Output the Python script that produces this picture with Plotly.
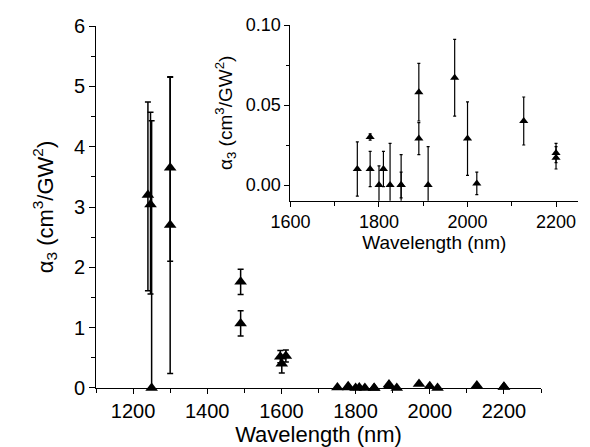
import plotly.graph_objects as go

# Large-value measurements (main plot only)
wl_big = [1240, 1247, 1250, 1300, 1300, 1490, 1490, 1597, 1601, 1612]
a3_big = [3.20, 3.04, 0.00, 3.65, 2.70, 1.76, 1.07, 0.52, 0.40, 0.53]
err_big_plus = [1.54, 1.53, 4.43, 1.50, 2.46, 0.21, 0.21, 0.10, 0.10, 0.10]
err_big_minus = [1.59, 1.48, 0.00, 1.55, 2.46, 0.21, 0.21, 0.10, 0.15, 0.10]

# Small-value measurements (shown in both main plot and inset)
wl_small = [1751, 1780, 1780, 1800, 1810, 1825, 1850, 1850, 1890, 1890,
            1911, 1971, 2000, 2021, 2127, 2200, 2200]
a3_small = [0.010, 0.030, 0.010, 0.000, 0.010, 0.000, 0.000, 0.000, 0.058, 0.029,
            0.000, 0.067, 0.029, 0.001, 0.040, 0.020, 0.017]
err_small = [0.017, 0.002, 0.011, 0.012, 0.011, 0.026, 0.019, 0.008, 0.018, 0.010,
             0.024, 0.024, 0.023, 0.007, 0.015, 0.006, 0.007]

ytitle = "α<sub>3</sub> (cm<sup>3</sup>/GW<sup>2</sup>)"
xtitle = "Wavelength (nm)"
FONT = "Liberation Sans, Arial, sans-serif"

fig = go.Figure()

fig.add_trace(go.Scatter(
    x=wl_big, y=a3_big, mode="markers",
    marker=dict(symbol="triangle-up", size=11, color="black"),
    error_y=dict(type="data", array=err_big_plus, arrayminus=err_big_minus,
                 symmetric=False, color="black", thickness=1.5, width=3),
    cliponaxis=False, xaxis="x", yaxis="y", showlegend=False))

fig.add_trace(go.Scatter(
    x=wl_small, y=a3_small, mode="markers",
    marker=dict(symbol="triangle-up", size=11, color="black"),
    cliponaxis=False, xaxis="x", yaxis="y", showlegend=False))

fig.add_trace(go.Scatter(
    x=wl_small, y=a3_small, mode="markers",
    marker=dict(symbol="triangle-up", size=8, color="black"),
    error_y=dict(type="data", array=err_small, color="black", thickness=1.2, width=1.5),
    xaxis="x2", yaxis="y2", showlegend=False))

axis_common = dict(showline=True, linecolor="black", linewidth=1, mirror=False,
                   ticks="outside", tickcolor="black", showgrid=False, zeroline=False,
                   automargin=False,
                   tickfont=dict(family=FONT, size=20, color="black"))

fig.update_layout(
    width=590, height=447,
    margin=dict(l=88, r=10, t=17, b=67),
    paper_bgcolor="white", plot_bgcolor="rgba(0,0,0,0)",
    font=dict(family=FONT, color="black"),
    xaxis=dict(**axis_common, domain=[0, 0.9045], range=[1100, 2300],
               dtick=200, tick0=1200, ticklen=5,
               minor=dict(dtick=100, tick0=1100, ticks="outside", ticklen=4, tickcolor="black"),
               title=dict(text=xtitle, font=dict(family=FONT, size=22), standoff=5),
               anchor="y"),
    yaxis=dict(**axis_common, domain=[0, 0.9972], range=[0, 6], dtick=1, ticklen=6,
               minor=dict(dtick=0.5, ticks="outside", ticklen=4, tickcolor="black"),
               title=dict(text=ytitle, font=dict(family=FONT, size=22), standoff=14),
               anchor="x"),
    xaxis2=dict(**{**axis_common, "tickfont": dict(family=FONT, size=18, color="black")},
                domain=[0.3953, 0.98], range=[1600, 2250],
                dtick=200, tick0=1600, ticklen=5,
                minor=dict(dtick=100, tick0=1600, ticks="outside", ticklen=4, tickcolor="black"),
                title=dict(text=xtitle, font=dict(family=FONT, size=19), standoff=1),
                anchor="y2"),
    yaxis2=dict(**{**axis_common, "tickfont": dict(family=FONT, size=18, color="black")},
                domain=[0.516, 1.0], range=[-0.0098, 0.10],
                tickvals=[0.0, 0.05, 0.10], ticktext=["0.00", "0.05", "0.10"], ticklen=5,
                minor=dict(tickvals=[0.025, 0.075], ticks="outside", ticklen=3, tickcolor="black"),
                title=dict(text=ytitle, font=dict(family=FONT, size=19), standoff=8),
                anchor="x2"),
)

fig.write_html("out.html")
